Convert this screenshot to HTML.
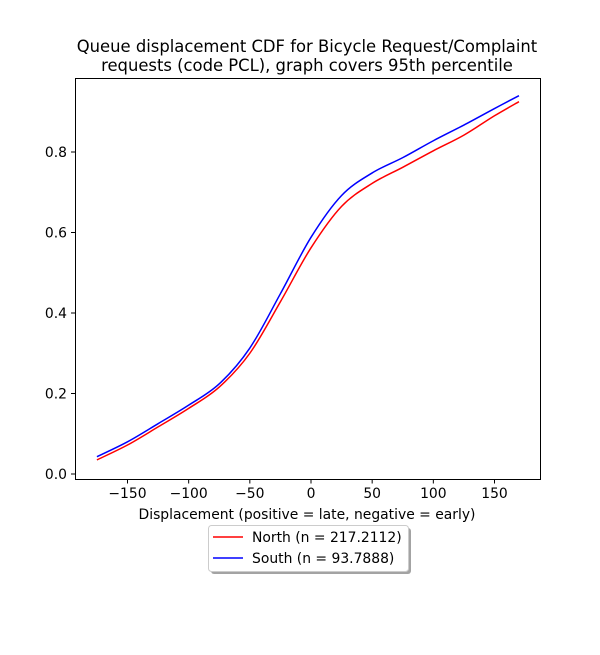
<!DOCTYPE html>
<html><head><meta charset="utf-8"><style>
body{margin:0;background:#fff;font-family:"Liberation Sans",sans-serif}
svg text{font-family:"DejaVu Sans","Liberation Sans",sans-serif;fill:#000}
</style></head><body>
<svg id="chart" width="600" height="650" xmlns="http://www.w3.org/2000/svg">
<rect width="600" height="650" fill="#fff"/>
<text x="307" y="52" font-size="16.4" text-anchor="middle">Queue displacement CDF for Bicycle Request/Complaint</text>
<text x="307" y="71" font-size="16.4" text-anchor="middle">requests (code PCL), graph covers 95th percentile</text>
<g id="plot"></g>
<rect x="75.5" y="78.5" width="465" height="401" fill="none" stroke="#000" stroke-width="1"/>
<g id="xticks"></g><g id="yticks"></g>
<text x="307" y="519" font-size="13.9" text-anchor="middle">Displacement (positive = late, negative = early)</text>
<g>
<rect x="211" y="528" width="200" height="46" rx="3" fill="#666" opacity="0.6"/>
<rect x="208.5" y="525.5" width="200" height="46" rx="3" fill="#fff" stroke="#ccc"/>
<line x1="213" y1="537" x2="243" y2="537" stroke="#f00" stroke-width="1.5"/>
<text x="252" y="542" font-size="13.9">North (n = 217.2112)</text>
<line x1="213" y1="558" x2="243" y2="558" stroke="#00f" stroke-width="1.5"/>
<text x="252" y="563" font-size="13.9">South (n = 93.7888)</text>
</g>
</svg>
<script>
const xs=[-175,-150,-125,-100,-75,-50,-25,0,25,50,75,100,125,150,170];
const north=[0.035,0.072,0.117,0.163,0.216,0.30,0.428,0.562,0.665,0.722,0.762,0.803,0.842,0.89,0.925];
const south=[0.043,0.080,0.125,0.171,0.224,0.313,0.448,0.588,0.692,0.748,0.786,0.828,0.867,0.908,0.94];
const xTicks=[-150,-100,-50,0,50,100,150];
const yTicks=[0.0,0.2,0.4,0.6,0.8];
const X=v=>311+v*(367/300);
const Y=v=>474-v*402.5;
const NS="http://www.w3.org/2000/svg";
function mk(t,a){const e=document.createElementNS(NS,t);for(const k in a)e.setAttribute(k,a[k]);return e;}
function path(vals){
  const p=xs.map((x,i)=>[X(x),Y(vals[i])]);
  let d="M"+p[0][0]+","+p[0][1];
  for(let i=0;i<p.length-1;i++){
    const p0=p[Math.max(0,i-1)],p1=p[i],p2=p[i+1],p3=p[Math.min(p.length-1,i+2)];
    const c1=[p1[0]+(p2[0]-p0[0])/6,p1[1]+(p2[1]-p0[1])/6];
    const c2=[p2[0]-(p3[0]-p1[0])/6,p2[1]-(p3[1]-p1[1])/6];
    d+=" C"+c1+" "+c2+" "+p2;
  }
  return d;
}
const plot=document.getElementById('plot');
const ln=mk('path',{d:path(north),fill:'none',stroke:'#f00','stroke-width':1.5});


plot.appendChild(ln);
const ls=mk('path',{d:path(south),fill:'none',stroke:'#00f','stroke-width':1.5});


plot.appendChild(ls);
const xt=document.getElementById('xticks');
xTicks.forEach(v=>{
  const l=mk('line',{x1:X(v),x2:X(v),y1:479,y2:483.5,stroke:'#000'});
  
  
  xt.appendChild(l);
  const t=mk('text',{x:X(v),y:498,'font-size':13.9,'text-anchor':'middle'});
  t.textContent=v<0?"\u2212"+(-v):String(v);
  
  
  xt.appendChild(t);
});
const yt=document.getElementById('yticks');
yTicks.forEach(v=>{
  const l=mk('line',{x1:71,x2:75.5,y1:Y(v),y2:Y(v),stroke:'#000'});
  
  
  yt.appendChild(l);
  const t=mk('text',{x:67,y:Y(v)+5,'font-size':13.9,'text-anchor':'end'});
  t.textContent=v.toFixed(1);
  
  
  yt.appendChild(t);
});
</script>
</body></html>
